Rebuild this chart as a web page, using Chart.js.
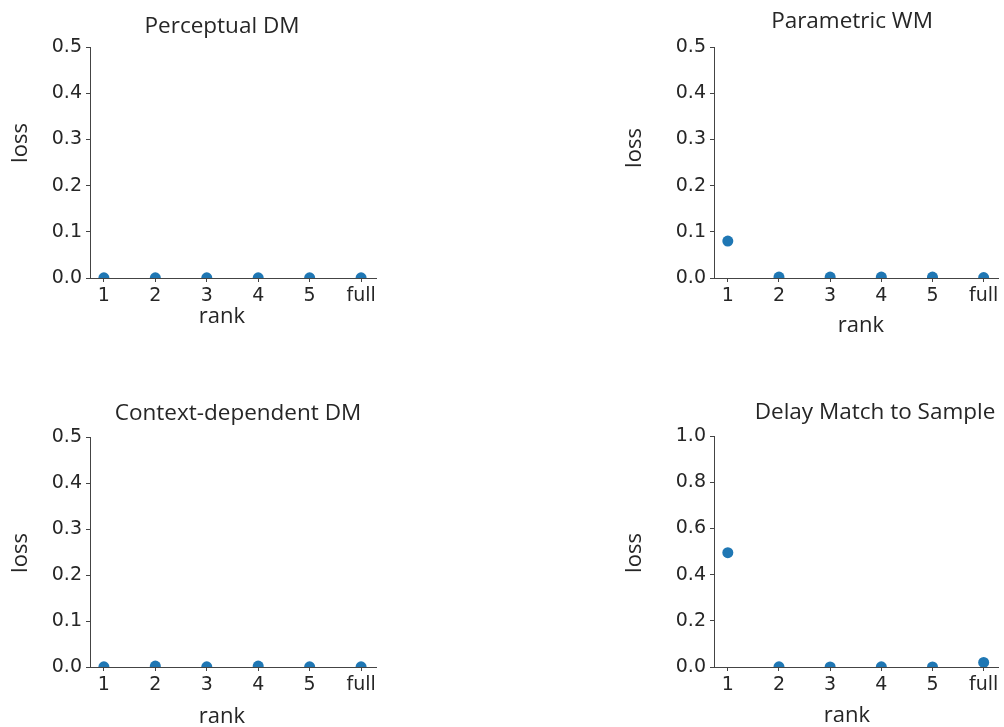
<!DOCTYPE html>
<html>
<head>
<meta charset="utf-8">
<title>loss by rank</title>
<script src="https://cdn.jsdelivr.net/npm/chart.js@4.4.1/dist/chart.umd.min.js"></script>
<style>
    body { margin: 0; background: #fff; }
    #wrap { position: relative; width: 1004px; height: 727px; }
    #wrap canvas { position: absolute; left: 0; top: 0; }
</style>
</head>
<body>
<div id="wrap">
    <canvas id="c1" width="1004" height="727"></canvas>
    <canvas id="c2" width="1004" height="727"></canvas>
    <canvas id="c3" width="1004" height="727"></canvas>
    <canvas id="c4" width="1004" height="727"></canvas>
</div>
<script>
// rank categories shared by every panel
const ranks = ['1', '2', '3', '4', '5', 'full'];

// loss per rank for each task
const perceptualLoss = [0.0005, 0.0005, 0.0005, 0.0005, 0.0005, 0.0005];
const parametricLoss = [0.08, 0.002, 0.002, 0.002, 0.002, 0.001];
const contextLoss = [0.0005, 0.002, 0.0005, 0.002, 0.0005, 0.0005];
const delayMatchLoss = [0.495, 0.001, 0.0005, 0.001, 0.0005, 0.02];

// y ranges and tick steps
const yMax = [0.5, 0.5, 0.5, 1.0];
const yStep = [0.1, 0.1, 0.1, 0.2];

const titles = ['Perceptual DM', 'Parametric WM', 'Context-dependent DM', 'Delay Match to Sample'];

const BLUE = '#1f77b4';
const INK = '#262626';
const AXIS = '#444';
const TEXT_FONT = '"Open Sans", "Noto Sans", sans-serif';
const TICK_FONT = { family: '"DejaVu Sans", sans-serif', size: 19 };
const Y_AXIS_W = 60;
const X_AXIS_H = 40;

// plot area and label placement for each panel (page pixels)
const panels = [
    { id: 'c1', data: perceptualLoss, area: { l: 90, r: 376, t: 47, b: 278 },
      title: { x: 222, y: 33 }, ylab: { x: 21, y: 143 }, xlab: { x: 222, y: 323 } },
    { id: 'c2', data: parametricLoss, area: { l: 714, r: 999, t: 47, b: 278 },
      title: { x: 852, y: 28 }, ylab: { x: 635, y: 148 }, xlab: { x: 861, y: 332 } },
    { id: 'c3', data: contextLoss, area: { l: 90, r: 376, t: 437, b: 667 },
      title: { x: 238, y: 420 }, ylab: { x: 21, y: 553 }, xlab: { x: 222, y: 723 } },
    { id: 'c4', data: delayMatchLoss, area: { l: 714, r: 999, t: 436, b: 667 },
      title: { x: 875, y: 419 }, ylab: { x: 635, y: 553 }, xlab: { x: 847, y: 722 } }
];

// draws title, "loss" and "rank" at fixed spots
const panelText = {
    id: 'panelText',
    afterDraw(chart, args, opts) {
        const ctx = chart.ctx;
        ctx.save();
        ctx.fillStyle = INK;
        ctx.textAlign = 'center';
        ctx.textBaseline = 'alphabetic';
        ctx.font = '22.5px ' + TEXT_FONT;
        ctx.fillText(opts.title, opts.titlePos.x, opts.titlePos.y);
        ctx.font = '22px ' + TEXT_FONT;
        ctx.fillText('rank', opts.xlab.x, opts.xlab.y);
        ctx.translate(opts.ylab.x, opts.ylab.y);
        ctx.rotate(-Math.PI / 2);
        ctx.textBaseline = 'middle';
        ctx.fillText('loss', 0, 0);
        ctx.restore();
    }
};

function buildPanel(p, i) {
    const ctx = document.getElementById(p.id).getContext('2d');
    return new Chart(ctx, {
        type: 'scatter',
        data: {
            datasets: [{
                data: p.data.map((v, k) => ({ x: k, y: v })),
                backgroundColor: BLUE,
                borderWidth: 0,
                pointRadius: 5.5,
                pointHoverRadius: 5.5,
                clip: 0
            }]
        },
        options: {
            responsive: false,
            animation: false,
            layout: {
                padding: {
                    left: p.area.l - Y_AXIS_W,
                    right: 1004 - p.area.r,
                    top: p.area.t,
                    bottom: 727 - p.area.b - X_AXIS_H
                }
            },
            plugins: {
                legend: { display: false },
                tooltip: { enabled: false },
                panelText: { title: titles[i], titlePos: p.title, ylab: p.ylab, xlab: p.xlab }
            },
            scales: {
                x: {
                    type: 'linear',
                    min: -0.27,
                    max: 5.29,
                    afterBuildTicks: scale => {
                        scale.ticks = ranks.map((r, k) => ({ value: k }));
                    },
                    afterFit: scale => { scale.height = X_AXIS_H; },
                    ticks: {
                        callback: v => ranks[v],
                        color: INK,
                        font: TICK_FONT,
                        padding: 3,
                        maxRotation: 0,
                        autoSkip: false
                    },
                    grid: { drawOnChartArea: false, drawTicks: true, tickLength: 4, color: AXIS },
                    border: { color: AXIS, width: 1 }
                },
                y: {
                    min: 0,
                    max: yMax[i],
                    afterFit: scale => { scale.width = Y_AXIS_W; },
                    ticks: {
                        stepSize: yStep[i],
                        callback: v => v.toFixed(1),
                        color: INK,
                        font: TICK_FONT,
                        padding: 4
                    },
                    grid: { drawOnChartArea: false, drawTicks: true, tickLength: 4, color: AXIS },
                    border: { color: AXIS, width: 1 }
                }
            }
        },
        plugins: [panelText]
    });
}

panels.forEach(buildPanel);
</script>
</body>
</html>
